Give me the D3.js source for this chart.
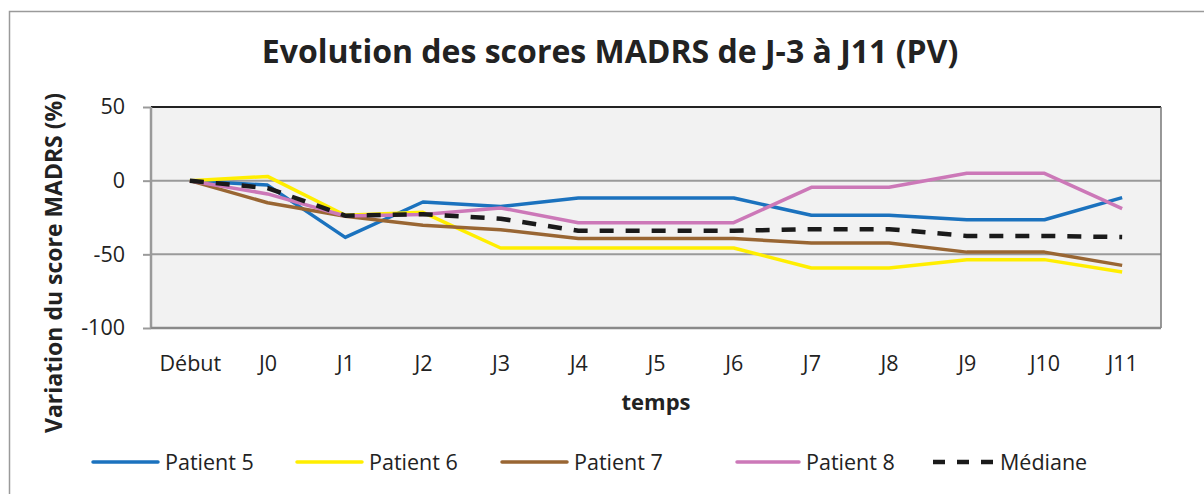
<!DOCTYPE html>
<html>
<head>
<meta charset="utf-8">
<script src="https://cdn.jsdelivr.net/npm/d3@7"></script>
<style>
body { margin: 0; background: #fff; }
svg { display: block; }
text { font-family: "Open Sans", "Noto Sans", sans-serif; fill: #222; }
</style>
</head>
<body>
<script>

var categories = ["Début", "J0", "J1", "J2", "J3", "J4", "J5", "J6", "J7", "J8", "J9", "J10", "J11"];

var patient5 = [0, -3, -38.5, -14.5, -17.5, -11.8, -11.8, -11.8, -23.5, -23.5, -26.5, -26.5, -11.5];
var patient6 = [0, 2.9, -23.5, -21.5, -45.7, -45.7, -45.7, -45.7, -59.3, -59.3, -53.6, -53.6, -62];
var patient7 = [0, -15, -24.2, -30.3, -33.3, -39.3, -39.3, -39.3, -42.3, -42.3, -48.5, -48.5, -57.5];
var patient8 = [0, -9, -24, -23, -18.5, -28.5, -28.5, -28.5, -4.5, -4.5, 5, 5, -19];
var mediane  = [0, -5, -23.8, -22.8, -25.8, -34, -34, -34, -32.9, -32.9, -37.5, -37.5, -38.3];

var seriesNames = ["Patient 5", "Patient 6", "Patient 7", "Patient 8", "Médiane"];
var seriesColors = ["#1b72be", "#ffee00", "#996633", "#cc78b8", "#1a1a1a"];
var yTicks = [50, 0, -50, -100];

window.onload = function WindowLoad(event) {
	DrawChart()
}

function DrawChart(){
	var W = 1204, H = 494
	var left = 151, top = 107, right = 1161, bottom = 328

	var svg = d3.select("body").append("svg")
		.attr("width", W)
		.attr("height", H)

	// outer frame (only left/top visible in the picture)
	svg.append("rect")
		.attr("x", 9.5).attr("y", 11.5)
		.attr("width", W + 20).attr("height", H + 20)
		.style("fill", "white")
		.style("stroke", "#9a9a9a")
		.style("stroke-width", 1.5)

	var x = d3.scalePoint().domain(categories).range([left, right]).padding(0.5)
	var y = d3.scaleLinear().domain([-100, 50]).range([bottom, top])

	// plot area
	svg.append("rect")
		.attr("x", left).attr("y", top)
		.attr("width", right - left).attr("height", bottom - top)
		.style("fill", "#f2f2f2")

	// gridlines
	svg.append("g").selectAll("line")
		.data([0, -50])
		.enter()
		.append("line")
		.attr("x1", left).attr("x2", right)
		.attr("y1", function(d){ return y(d) })
		.attr("y2", function(d){ return y(d) })
		.style("stroke", "#9a9a9a")
		.style("stroke-width", 2)

	// top and right border
	svg.append("line").attr("x1", left).attr("x2", right).attr("y1", top).attr("y2", top)
		.style("stroke", "#222").style("stroke-width", 2)
	svg.append("line").attr("x1", right).attr("x2", right).attr("y1", top).attr("y2", bottom)
		.style("stroke", "#777").style("stroke-width", 1.5)

	// y axis
	var yAxis = d3.axisLeft(y).tickValues(yTicks).tickSize(8).tickPadding(18)
		.tickFormat(function(d){ return String(d) })
	var gy = svg.append("g").attr("transform", "translate(" + left + ",0)").call(yAxis)
	gy.select(".domain").style("stroke", "#9a9a9a").style("stroke-width", 2.5)
		.attr("d", "M0," + top + "V" + bottom)
	gy.selectAll(".tick line").style("stroke", "#9a9a9a").style("stroke-width", 2)
	gy.selectAll(".tick text").style("font-size", "21.5px").style("font-family", "'Open Sans', sans-serif").style("fill", "#222")

	// x axis
	var xAxis = d3.axisBottom(x).tickSize(0)
	var gx = svg.append("g").attr("transform", "translate(0," + bottom + ")").call(xAxis)
	gx.select(".domain").style("stroke", "#8a8a8a").style("stroke-width", 2.5)
		.attr("d", "M" + left + ",0H" + right)
	gx.selectAll(".tick text")
		.attr("y", 43).attr("dy", null)
		.style("font-size", "21.5px").style("font-family", "'Open Sans', sans-serif").style("fill", "#222")

	// series
	var allSeries = [patient5, patient6, patient7, patient8, mediane]
	var line = d3.line()
		.x(function(d, i){ return x(categories[i]) })
		.y(function(d){ return y(d) })

	svg.append("g").selectAll("path")
		.data(allSeries)
		.enter()
		.append("path")
		.attr("d", line)
		.style("fill", "none")
		.style("stroke", function(d, i){ return seriesColors[i] })
		.style("stroke-width", function(d, i){ return i === 4 ? 4.5 : 3.5 })
		.style("stroke-dasharray", function(d, i){ return i === 4 ? "14,12" : null })
		.style("stroke-linejoin", "round")

	// title
	svg.append("text")
		.attr("x", 610).attr("y", 63)
		.attr("text-anchor", "middle")
		.style("font-size", "32px")
		.style("font-weight", "bold")
		.text("Evolution des scores MADRS de J-3 à J11 (PV)")

	// axis titles
	svg.append("text")
		.attr("x", 656).attr("y", 410)
		.attr("text-anchor", "middle")
		.style("font-size", "22px")
		.style("font-weight", "bold")
		.text("temps")

	svg.append("text")
		.attr("transform", "translate(62,263) rotate(-90)")
		.attr("text-anchor", "middle")
		.attr("textLength", 340)
		.attr("lengthAdjust", "spacingAndGlyphs")
		.style("font-size", "23.5px")
		.style("font-weight", "bold")
		.text("Variation du score MADRS (%)")

	// legend
	var legendX = [93, 297, 502, 737, 933]
	var legendLen = [65, 65, 65, 62, 60]
	var lg = svg.append("g").selectAll("g")
		.data(seriesNames)
		.enter()
		.append("g")
		.attr("transform", function(d, i){ return "translate(" + legendX[i] + ",462)" })

	lg.append("line")
		.attr("x1", 0)
		.attr("x2", function(d, i){ return legendLen[i] })
		.attr("y1", 0).attr("y2", 0)
		.style("stroke", function(d, i){ return seriesColors[i] })
		.style("stroke-width", function(d, i){ return i === 4 ? 4.5 : 3.5 })
		.style("stroke-dasharray", function(d, i){ return i === 4 ? "12,12" : null })
		.style("stroke-linecap", function(d, i){ return i === 4 ? "butt" : "round" })

	lg.append("text")
		.attr("x", function(d, i){ return legendLen[i] + 7 })
		.attr("y", 8)
		.style("font-size", "21.5px")
		.text(function(d){ return d })
}
</script>
</body>
</html>
